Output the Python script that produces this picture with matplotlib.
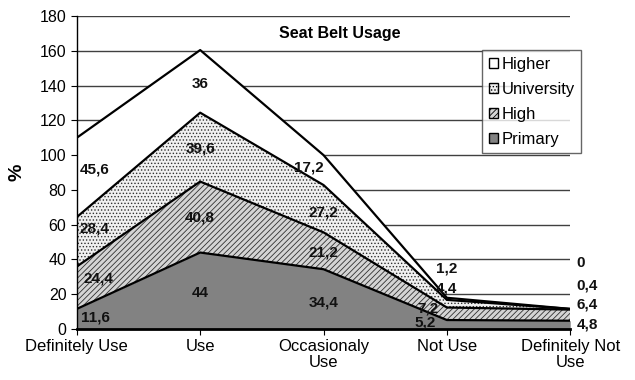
import matplotlib.pyplot as plt
import numpy as np

plt.rcParams['font.family'] = ['Liberation Sans', 'DejaVu Sans']
plt.rcParams['hatch.linewidth'] = 0.6

categories = ['Definitely Use', 'Use', 'Occasionaly\nUse', 'Not Use', 'Definitely Not\nUse']
primary = [11.6, 44, 34.4, 5.2, 4.8]
high = [24.4, 40.8, 21.2, 7.2, 6.4]
university = [28.4, 39.6, 27.2, 4.4, 0.4]
higher = [45.6, 36, 17.2, 1.2, 0]

series = [('Primary', primary), ('High', high), ('University', university), ('Higher', higher)]
styles = {
    'Primary': dict(facecolor='#828282', hatch=None),
    'High': dict(facecolor='#d4d4d4', hatch='//////'),
    'University': dict(facecolor='#f0f0f0', hatch='.....'),
    'Higher': dict(facecolor='white', hatch=None),
}

x = np.arange(len(categories))

fig = plt.figure(figsize=(6.35, 3.8), dpi=100)
ax = fig.add_axes([0.121, 0.134, 0.777, 0.824])

ax.set_ylim(0, 180)
ax.set_xlim(0, 4)
ax.set_yticks(range(0, 181, 20))
for yv in range(20, 181, 20):
    ax.axhline(yv, color='#404040', linewidth=1.0, zorder=0)

bottom = np.zeros(len(x))
handles = []
for name, vals in series:
    top = bottom + np.array(vals)
    st = styles[name]
    h = ax.fill_between(x, bottom, top, facecolor=st['facecolor'], hatch=st['hatch'],
                        edgecolor='#303030', linewidth=0, zorder=2, label=name)
    ax.plot(x, top, color='black', linewidth=1.6, zorder=3)
    handles.append(h)
    bottom = top

# value labels (y positions in data units)
label_pos = {
    'Higher': [(0.02, 92, 'left'), (1, 141, 'center'), (2, 93, 'right'), (3, 35, 'center'), (4.05, 38, 'left')],
    'University': [(0.02, 58, 'left'), (1, 104, 'center'), (2, 67, 'center'), (3, 23.5, 'center'), (4.05, 25, 'left')],
    'High': [(0.05, 29, 'left'), (1, 64, 'center'), (2, 44, 'center'), (2.85, 12, 'center'), (4.05, 14, 'left')],
    'Primary': [(0.03, 6.5, 'left'), (1, 21, 'center'), (2, 15.5, 'center'), (2.82, 3.5, 'center'), (4.05, 2.5, 'left')],
}
for name, vals in series:
    for (px, py, ha), v in zip(label_pos[name], vals):
        txt = ('%g' % v).replace('.', ',')
        ax.text(px, py, txt, ha=ha, va='center', fontsize=11, fontweight='bold',
                color='#111111', zorder=5, clip_on=False)

ax.text(2.13, 170, 'Seat Belt Usage', ha='center', va='center', fontsize=11.5, fontweight='bold')

ax.set_xticks(x)
ax.set_xticklabels(categories, fontsize=12, linespacing=1.05)
ax.tick_params(axis='y', labelsize=11.5, direction='out', length=4)
ax.tick_params(axis='x', direction='out', length=4)
ax.set_ylabel('%', fontsize=14, fontweight='bold', labelpad=10)

for s in ['top', 'right']:
    ax.spines[s].set_visible(False)
ax.spines['bottom'].set_linewidth(2)
ax.spines['left'].set_linewidth(1.0)

leg = ax.legend(handles[::-1], ['Higher', 'University', 'High', 'Primary'],
                loc='upper left', bbox_to_anchor=(0.822, 0.891), fontsize=12,
                frameon=True, fancybox=False, edgecolor='#404040',
                handlelength=0.55, handleheight=0.55, handletextpad=0.2,
                labelspacing=0.6, borderpad=0.4, borderaxespad=0)
leg.get_frame().set_linewidth(1.0)
for p in leg.get_patches():
    p.set_edgecolor('black')
    p.set_linewidth(1.0)

fig.savefig('out.png', dpi=100)
